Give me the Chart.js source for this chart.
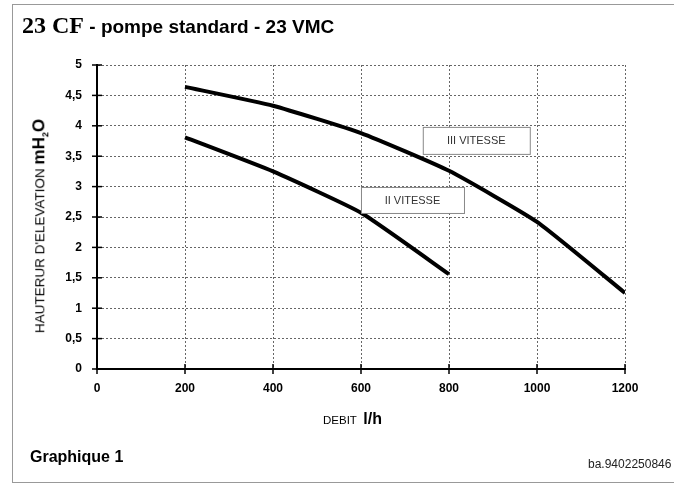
<!DOCTYPE html>
<html>
<head>
<meta charset="utf-8">
<script src="https://cdn.jsdelivr.net/npm/chart.js@4.4.1/dist/chart.umd.min.js"></script>
<style>
  html, body { margin: 0; padding: 0; background: #fff; }
  #wrap { position: relative; width: 678px; height: 485px; overflow: hidden; }
  #jamsChart { position: absolute; left: 0; top: 0; }
  .frame { position: absolute; left: 12px; top: 4px; width: 662px; height: 479px;
           border: 1px solid #999; border-right: none; box-sizing: border-box; }
  .txt { position: absolute; white-space: nowrap; color: #000; font-family: "Liberation Sans", Arial, sans-serif; }
</style>
</head>
<body>
<div id="wrap">
  <div class="frame"></div>
  <canvas id="jamsChart" width="678" height="485"></canvas>
  <div class="txt" style="left:22px; top:12px; font-weight:bold; font-size:19px;">
    <span style="font-family:'Liberation Serif', 'Times New Roman', serif; font-size:24px;">23 CF</span> - pompe standard - 23 VMC
  </div>
  <div class="txt" style="left:40px; top:226px; transform: translate(-50%,-50%) rotate(-90deg); font-size:13.5px;">
    HAUTERUR D'ELEVATION <span style="font-weight:bold; font-size:17px;">mH<sub style="font-size:9px;">2</sub>O</span>
  </div>
  <div class="txt" style="left:323px; top:410px; font-size:11.5px;">
    DEBIT&nbsp; <span style="font-weight:bold; font-size:16px;">l/h</span>
  </div>
  <div class="txt" style="left:30px; top:448px; font-weight:bold; font-size:16px;">Graphique 1</div>
  <div class="txt" style="left:588px; top:457px; font-size:12px; color:#222;">ba.9402250846</div>
</div>
<script>
// ======================
// Données
// ======================
const debits = [200, 400, 600, 800, 1000, 1200];
const vitesse3 = [4.64, 4.33, 3.88, 3.26, 2.42, 1.25];
const vitesse2 = [3.81, 3.25, 2.57, 1.56];
const xTicks = ['0', '200', '400', '600', '800', '1000', '1200'];
const yTicks = ['0', '0,5', '1', '1,5', '2', '2,5', '3', '3,5', '4', '4,5', '5'];

// étiquettes des courbes (position en unités du graphique)
const etiquettes = [
  { texte: 'III VITESSE', x: 862, y: 3.76, w: 107, h: 27 },
  { texte: 'II VITESSE', x: 717, y: 2.78, w: 103, h: 26 }
];

const ctx = document.getElementById('jamsChart').getContext('2d');

// petits traits qui traversent les axes + cadres des étiquettes
const decor = {
  id: 'decor',
  afterDraw(chart) {
    const { ctx, scales: { x, y } } = chart;
    ctx.save();
    ctx.strokeStyle = '#000';
    ctx.lineWidth = 1.5;
    xTicks.forEach((_, i) => {
      const px = x.getPixelForValue(i * 200);
      ctx.beginPath();
      ctx.moveTo(px, y.bottom - 5);
      ctx.lineTo(px, y.bottom + 5);
      ctx.stroke();
    });
    yTicks.forEach((_, i) => {
      const py = y.getPixelForValue(i * 0.5);
      ctx.beginPath();
      ctx.moveTo(x.left - 5, py);
      ctx.lineTo(x.left + 5, py);
      ctx.stroke();
    });
    etiquettes.forEach(e => {
      const cx = x.getPixelForValue(e.x);
      const cy = y.getPixelForValue(e.y);
      ctx.fillStyle = '#fff';
      ctx.fillRect(cx - e.w / 2, cy - e.h / 2, e.w, e.h);
      ctx.strokeStyle = '#888';
      ctx.lineWidth = 1;
      ctx.strokeRect(cx - e.w / 2 + 0.5, cy - e.h / 2 + 0.5, e.w, e.h);
      ctx.fillStyle = '#333';
      ctx.font = '11px "Liberation Sans", Arial, sans-serif';
      ctx.textAlign = 'center';
      ctx.textBaseline = 'middle';
      ctx.fillText(e.texte, cx, cy + 1);
    });
    ctx.restore();
  }
};

const data = {
  datasets: [
    {
      label: 'III VITESSE',
      data: debits.map((d, i) => ({ x: d, y: vitesse3[i] })),
      borderColor: '#000',
      borderWidth: 4,
      pointRadius: 0,
      tension: 0.15,
      fill: false
    },
    {
      label: 'II VITESSE',
      data: vitesse2.map((v, i) => ({ x: debits[i], y: v })),
      borderColor: '#000',
      borderWidth: 4,
      pointRadius: 0,
      tension: 0.15,
      fill: false
    }
  ]
};

const tickFont = { family: '"Liberation Sans", Arial, sans-serif', size: 12, weight: 'bold' };

const options = {
  responsive: false,
  animation: false,
  layout: { padding: { top: 65, right: 53, left: 0, bottom: 0 } },
  plugins: { legend: { display: false }, tooltip: { enabled: false } },
  scales: {
    x: {
      type: 'linear',
      min: 0, max: 1200,
      afterFit: s => { s.height = 116; },
      afterBuildTicks: s => { s.ticks = xTicks.map((_, i) => ({ value: i * 200 })); },
      ticks: {
        color: '#000', padding: 12, font: tickFont, maxRotation: 0,
        callback: (v, i) => xTicks[i]
      },
      grid: { color: '#666', lineWidth: 1, drawTicks: false },
      border: { display: true, color: '#000', width: 2, dash: [2, 2] }
    },
    y: {
      type: 'linear',
      min: 0, max: 5,
      afterFit: s => { s.width = 97; },
      afterBuildTicks: s => { s.ticks = yTicks.map((_, i) => ({ value: i * 0.5 })); },
      ticks: {
        color: '#000', padding: 15, font: tickFont,
        callback: (v, i) => yTicks[i]
      },
      grid: { color: '#666', lineWidth: 1, drawTicks: false },
      border: { display: true, color: '#000', width: 2, dash: [2, 2] }
    }
  }
};

const chart = new Chart(ctx, { type: 'line', data, options, plugins: [decor] });
</script>
</body>
</html>
